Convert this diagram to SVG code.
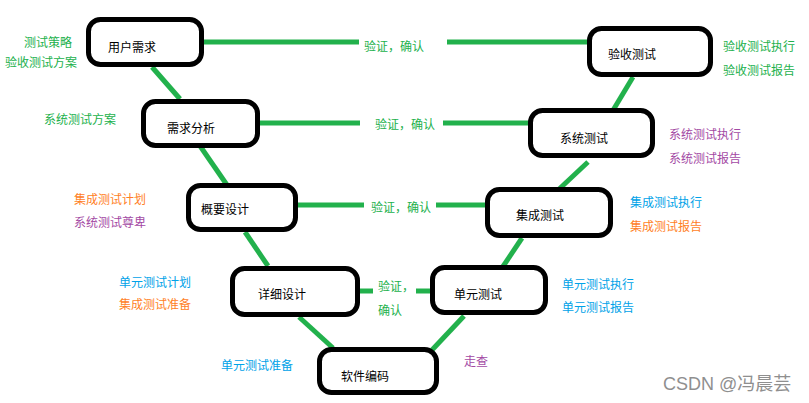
<svg xmlns="http://www.w3.org/2000/svg" width="809" height="403" viewBox="0 0 809 403">
<style>
.box{fill:#fff;stroke:#000;stroke-width:5}
.nt{font-family:"Noto Sans CJK SC","Microsoft YaHei",sans-serif;font-size:12px;fill:#000}
.c{stroke:#22b14c;stroke-width:5;fill:none}
.lb{font-family:"Noto Sans CJK SC","Microsoft YaHei",sans-serif;font-size:12px}
.g{fill:#22b14c}.o{fill:#ff7f27}.p{fill:#a349a4}.b{fill:#00a2e8}
</style>
<rect width="809" height="403" fill="#fff"/>
<g id="connectors">
<line class="c" x1="204" y1="42" x2="359" y2="42"/>
<line class="c" x1="447" y1="42" x2="589" y2="42"/>
<line class="c" x1="259" y1="123" x2="360" y2="123"/>
<line class="c" x1="443" y1="123" x2="532" y2="123"/>
<line class="c" x1="296" y1="205" x2="364" y2="205"/>
<line class="c" x1="436" y1="205" x2="489" y2="205"/>
<line class="c" x1="358" y1="291" x2="373" y2="291"/>
<line class="c" x1="416" y1="291" x2="434" y2="291"/>
<line class="c" x1="152" y1="67" x2="180" y2="99"/>
<line class="c" x1="198" y1="143" x2="227" y2="185"/>
<line class="c" x1="245" y1="232" x2="268" y2="266"/>
<line class="c" x1="299" y1="317" x2="333" y2="348"/>
<line class="c" x1="432" y1="350" x2="464" y2="316"/>
<line class="c" x1="502" y1="268" x2="522" y2="238"/>
<line class="c" x1="556" y1="192" x2="588" y2="162"/>
<line class="c" x1="612" y1="112" x2="633" y2="77"/>
<text class="lb g" x="364" y="51">验证，确认</text>
<text class="lb g" x="375" y="129">验证，确认</text>
<text class="lb g" x="371" y="212">验证，确认</text>
<text class="lb g" x="378" y="291">验证，</text>
<text class="lb g" x="378" y="315">确认</text>
</g>
<g id="n1"><rect class="box" x="88.5" y="19.5" width="113" height="45" rx="12"/><text class="nt" x="108" y="52">用户需求</text></g>
<g id="n2"><rect class="box" x="143.5" y="101.5" width="114" height="44" rx="12"/><text class="nt" x="167" y="133">需求分析</text></g>
<g id="n3"><rect class="box" x="188.5" y="185.5" width="107" height="44" rx="12"/><text class="nt" x="201" y="214">概要设计</text></g>
<g id="n4"><rect class="box" x="232.5" y="268.5" width="125" height="46" rx="12"/><text class="nt" x="258" y="299">详细设计</text></g>
<g id="n5"><rect class="box" x="319.5" y="349.5" width="117" height="43" rx="12"/><text class="nt" x="341" y="381">软件编码</text></g>
<g id="n6"><rect class="box" x="432.5" y="267.5" width="113" height="45" rx="12"/><text class="nt" x="454" y="299">单元测试</text></g>
<g id="n7"><rect class="box" x="487.5" y="189.5" width="123" height="46" rx="12"/><text class="nt" x="516" y="220">集成测试</text></g>
<g id="n8"><rect class="box" x="530.5" y="110.5" width="122" height="45" rx="12"/><text class="nt" x="560" y="143">系统测试</text></g>
<g id="n9"><rect class="box" x="589.5" y="28.5" width="121" height="46" rx="12"/><text class="nt" x="608" y="59">验收测试</text></g>
<g id="labels">
<text class="lb g" x="24" y="47">测试策略</text>
<text class="lb g" x="5" y="67">验收测试方案</text>
<text class="lb g" x="44" y="124">系统测试方案</text>
<text class="lb o" x="74" y="204">集成测试计划</text>
<text class="lb p" x="74" y="227">系统测试尊卑</text>
<text class="lb b" x="119" y="287">单元测试计划</text>
<text class="lb o" x="119" y="309">集成测试准备</text>
<text class="lb b" x="221" y="370">单元测试准备</text>
<text class="lb p" x="464" y="366">走查</text>
<text class="lb b" x="562" y="289">单元测试执行</text>
<text class="lb b" x="562" y="312">单元测试报告</text>
<text class="lb b" x="630" y="207">集成测试执行</text>
<text class="lb o" x="630" y="231">集成测试报告</text>
<text class="lb p" x="669" y="139">系统测试执行</text>
<text class="lb p" x="669" y="163">系统测试报告</text>
<text class="lb g" x="723" y="51">验收测试执行</text>
<text class="lb g" x="723" y="75">验收测试报告</text>
<text x="663" y="390" font-family="'Liberation Sans','Noto Sans CJK SC',sans-serif" font-size="18" fill="#8f8f8f">CSDN @冯晨芸</text>
</g>
</svg>
